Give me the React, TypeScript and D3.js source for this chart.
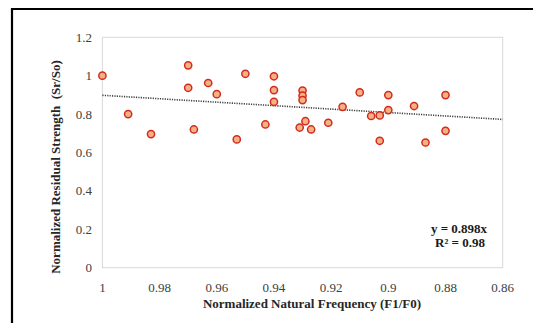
import React, { useEffect, useRef } from "react";
import * as d3 from "d3";

const xValues = [1.0, 0.991, 0.983, 0.970, 0.970, 0.968, 0.963, 0.960, 0.953, 0.950, 0.943, 0.940, 0.940, 0.940, 0.931, 0.930, 0.930, 0.930, 0.929, 0.927, 0.921, 0.916, 0.910, 0.906, 0.903, 0.903, 0.900, 0.900, 0.891, 0.887, 0.880, 0.880];
const yValues = [1.0, 0.80, 0.696, 1.054, 0.937, 0.72, 0.962, 0.904, 0.668, 1.01, 0.746, 0.997, 0.925, 0.864, 0.73, 0.923, 0.896, 0.873, 0.763, 0.72, 0.755, 0.838, 0.913, 0.79, 0.793, 0.661, 0.899, 0.821, 0.842, 0.652, 0.899, 0.713];
const xTicks = [1, 0.98, 0.96, 0.94, 0.92, 0.9, 0.88, 0.86];
const yTicks = [0, 0.2, 0.4, 0.6, 0.8, 1, 1.2];
const slope = 0.898;
const eqLabel = "y = 0.898x";
const r2Label = "R² = 0.98";
const xTitle = "Normalized Natural Frequency (F1/F0)";
const yTitle = "Normalized Residual Strength\u00A0\u00A0(Sr/So)";

export default function App() {
  const ref = useRef<SVGSVGElement>(null);
  useEffect(() => {
    const svg = d3.select(ref.current);
    svg.selectAll("*").remove();
    const W = 533, H = 323;
    const left = 102.4, right = 502.7, top = 37.3, bottom = 267.7;
    const x = d3.scaleLinear().domain([1, 0.86]).range([left, right]);
    const y = d3.scaleLinear().domain([0, 1.2]).range([bottom, top]);
    const font = "Liberation Serif, Times New Roman, Times, DejaVu Serif, serif";

    svg.append("rect").attr("width", W).attr("height", H).attr("fill", "#fff");
    svg.append("path")
      .attr("d", `M12,${H} V9 H${W}`)
      .attr("fill", "none").attr("stroke", "#000").attr("stroke-width", 2.2);

    svg.append("rect")
      .attr("x", left).attr("y", top)
      .attr("width", right - left).attr("height", bottom - top)
      .attr("fill", "none").attr("stroke", "#d9d9d9").attr("stroke-width", 1);

    svg.append("g").selectAll("text").data(yTicks).join("text")
      .attr("x", 92).attr("y", d => y(d) + 4.5)
      .attr("text-anchor", "end")
      .style("font-family", font).style("font-size", "13px").attr("fill", "#404040")
      .text(d => String(d));

    svg.append("g").selectAll("text").data(xTicks).join("text")
      .attr("x", d => x(d)).attr("y", 292)
      .attr("text-anchor", "middle")
      .style("font-family", font).style("font-size", "13px").attr("fill", "#404040")
      .text(d => String(d));

    const line = d3.line<number>().x(d => x(d)).y(d => y(slope * d));
    svg.append("path")
      .attr("d", line([1, 0.86]))
      .attr("fill", "none").attr("stroke", "#404040")
      .attr("stroke-width", 1.6).attr("stroke-dasharray", "1.2 1.2");

    svg.append("g").selectAll("circle").data(xValues.map((v, i) => [v, yValues[i]]))
      .join("circle")
      .attr("cx", d => x(d[0])).attr("cy", d => y(d[1]))
      .attr("r", 3.6)
      .attr("fill", "#F4B183").attr("stroke", "#D42A1E").attr("stroke-width", 1.5);

    svg.append("text")
      .attr("x", 459).attr("y", 232.5).attr("text-anchor", "middle")
      .style("font-family", font).style("font-size", "13px").style("font-weight", "bold").attr("fill", "#1a1a1a")
      .text(eqLabel);
    svg.append("text")
      .attr("x", 460).attr("y", 246.5).attr("text-anchor", "middle")
      .style("font-family", font).style("font-size", "13px").style("font-weight", "bold").attr("fill", "#1a1a1a")
      .text(r2Label);

    svg.append("text")
      .attr("x", 312).attr("y", 308).attr("text-anchor", "middle")
      .style("font-family", font).style("font-size", "13px").style("font-weight", "bold").attr("fill", "#262626")
      .text(xTitle);
    svg.append("text")
      .attr("transform", `translate(60,167) rotate(-90)`)
      .attr("text-anchor", "middle")
      .style("font-family", font).style("font-size", "13px").style("font-weight", "bold").attr("fill", "#262626")
      .text(yTitle);
  }, []);
  return (
    <svg ref={ref} width={533} height={323}
      style={{ position: "absolute", left: 0, top: 0, display: "block" }} />
  );
}
